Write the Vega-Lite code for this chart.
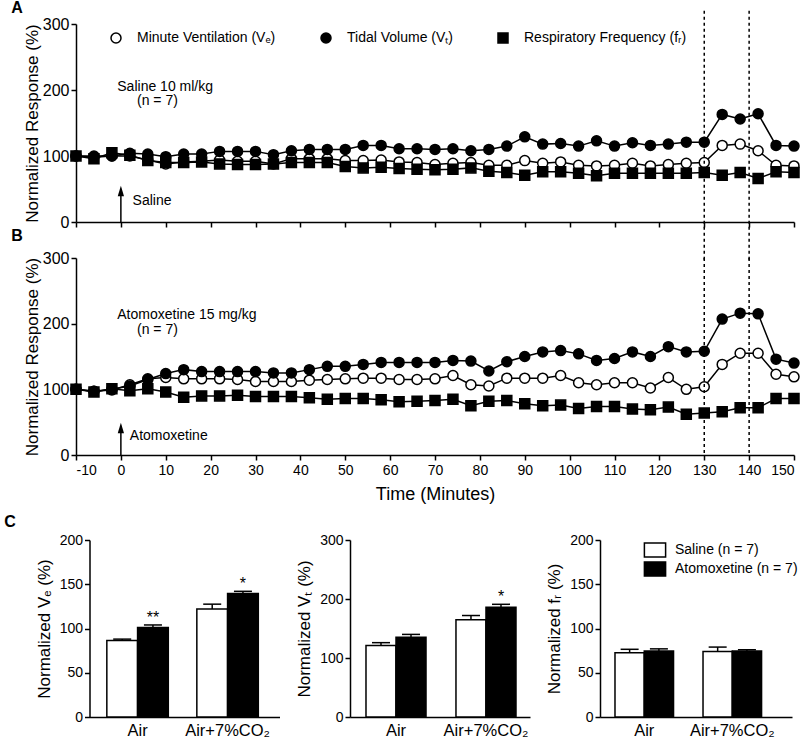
{
  "$schema": "https://vega.github.io/schema/vega-lite/v6.json",
  "background": "white",
  "padding": {"left": 4, "top": 0, "right": 4, "bottom": 4},
  "config": {
    "font": "Liberation Sans",
    "view": {"stroke": null},
    "axis": {"domainColor": "black", "tickColor": "black", "labelColor": "black", "titleColor": "black", "domainWidth": 1.5, "tickWidth": 1.5, "tickSize": 5, "grid": false, "labelFont": "Liberation Sans", "titleFont": "Liberation Sans", "titleFontWeight": "normal", "labelFontSize": 15, "titleFontSize": 17},
    "title": {"fontSize": 16, "fontWeight": "bold", "anchor": "start", "frame": "bounds", "offset": 6, "font": "Liberation Sans", "color": "black"},
    "legend": {"labelFont": "Liberation Sans", "labelColor": "black"}
  },
  "datasets": {
    "one": [{"k": 0}],
    "vlines": [{"t": 130}, {"t": 140}],
    "saline": [
      {"t":-10,"VE":100,"VT":100,"fR":100},{"t":-6,"VE":98,"VT":100,"fR":96},{"t":-2,"VE":100,"VT":100,"fR":105},{"t":2,"VE":100,"VT":104,"fR":101},
      {"t":6,"VE":94,"VT":103,"fR":93},{"t":10,"VE":88,"VT":99,"fR":90},{"t":14,"VE":91,"VT":103,"fR":90},{"t":18,"VE":92,"VT":103,"fR":91},
      {"t":22,"VE":94,"VT":107,"fR":88},{"t":26,"VE":92,"VT":107,"fR":87},{"t":30,"VE":92,"VT":107,"fR":87},{"t":34,"VE":88,"VT":102,"fR":88},
      {"t":38,"VE":96,"VT":108,"fR":90},{"t":42,"VE":96,"VT":110,"fR":90},{"t":46,"VE":96,"VT":110,"fR":90},{"t":50,"VE":93,"VT":110,"fR":84},
      {"t":54,"VE":93,"VT":116,"fR":82},{"t":58,"VE":94,"VT":116,"fR":83},{"t":62,"VE":91,"VT":111,"fR":81},{"t":66,"VE":90,"VT":111,"fR":80},
      {"t":70,"VE":87,"VT":110,"fR":79},{"t":74,"VE":89,"VT":111,"fR":80},{"t":78,"VE":90,"VT":108,"fR":82},{"t":82,"VE":86,"VT":110,"fR":77},
      {"t":86,"VE":86,"VT":115,"fR":75},{"t":90,"VE":93,"VT":129,"fR":71},{"t":94,"VE":89,"VT":118,"fR":76},{"t":98,"VE":91,"VT":119,"fR":76},
      {"t":102,"VE":86,"VT":115,"fR":74},{"t":106,"VE":85,"VT":123,"fR":70},{"t":110,"VE":86,"VT":115,"fR":74},{"t":114,"VE":89,"VT":120,"fR":74},
      {"t":118,"VE":85,"VT":116,"fR":74},{"t":122,"VE":87,"VT":118,"fR":74},{"t":126,"VE":89,"VT":121,"fR":74},{"t":130,"VE":90,"VT":121,"fR":75},
      {"t":134,"VE":116,"VT":163,"fR":71},{"t":138,"VE":118,"VT":156,"fR":75},{"t":142,"VE":108,"VT":164,"fR":66},{"t":146,"VE":86,"VT":116,"fR":76},
      {"t":150,"VE":85,"VT":115,"fR":75}
    ],
    "atomox": [
      {"t":-10,"VE":100,"VT":100,"fR":100},{"t":-6,"VE":97,"VT":97,"fR":96},{"t":-2,"VE":99,"VT":100,"fR":101},{"t":2,"VE":107,"VT":105,"fR":98},
      {"t":6,"VE":116,"VT":115,"fR":101},{"t":10,"VE":118,"VT":124,"fR":96},{"t":14,"VE":116,"VT":130,"fR":88},{"t":18,"VE":116,"VT":127,"fR":90},
      {"t":22,"VE":116,"VT":127,"fR":90},{"t":26,"VE":115,"VT":127,"fR":91},{"t":30,"VE":112,"VT":127,"fR":89},{"t":34,"VE":112,"VT":125,"fR":89},
      {"t":38,"VE":112,"VT":125,"fR":89},{"t":42,"VE":114,"VT":130,"fR":87},{"t":46,"VE":115,"VT":135,"fR":85},{"t":50,"VE":116,"VT":135,"fR":86},
      {"t":54,"VE":117,"VT":138,"fR":86},{"t":58,"VE":117,"VT":141,"fR":84},{"t":62,"VE":115,"VT":141,"fR":81},{"t":66,"VE":115,"VT":141,"fR":82},
      {"t":70,"VE":116,"VT":141,"fR":83},{"t":74,"VE":121,"VT":144,"fR":85},{"t":78,"VE":107,"VT":143,"fR":75},{"t":82,"VE":105,"VT":128,"fR":82},
      {"t":86,"VE":117,"VT":142,"fR":83},{"t":90,"VE":117,"VT":150,"fR":78},{"t":94,"VE":117,"VT":157,"fR":75},{"t":98,"VE":121,"VT":159,"fR":76},
      {"t":102,"VE":110,"VT":154,"fR":71},{"t":106,"VE":107,"VT":144,"fR":74},{"t":110,"VE":110,"VT":147,"fR":74},{"t":114,"VE":110,"VT":157,"fR":70},
      {"t":118,"VE":102,"VT":150,"fR":69},{"t":122,"VE":118,"VT":165,"fR":73},{"t":126,"VE":100,"VT":157,"fR":62},{"t":130,"VE":104,"VT":158,"fR":64},
      {"t":134,"VE":138,"VT":207,"fR":66},{"t":138,"VE":155,"VT":216,"fR":72},{"t":142,"VE":155,"VT":215,"fR":72},{"t":146,"VE":123,"VT":146,"fR":86},
      {"t":150,"VE":119,"VT":140,"fR":86}
    ],
    "bars": [
      {"m":"VE","cond":"Air","g":"Saline (n = 7)","mean":86.3,"upper":88,"sig":""},
      {"m":"VE","cond":"Air","g":"Atomoxetine (n = 7)","mean":101,"upper":104,"sig":"**"},
      {"m":"VE","cond":"Air+7%CO₂","g":"Saline (n = 7)","mean":122,"upper":127.5,"sig":""},
      {"m":"VE","cond":"Air+7%CO₂","g":"Atomoxetine (n = 7)","mean":139.5,"upper":142,"sig":"*"},
      {"m":"VT","cond":"Air","g":"Saline (n = 7)","mean":121,"upper":126,"sig":""},
      {"m":"VT","cond":"Air","g":"Atomoxetine (n = 7)","mean":135,"upper":140,"sig":""},
      {"m":"VT","cond":"Air+7%CO₂","g":"Saline (n = 7)","mean":165,"upper":172,"sig":""},
      {"m":"VT","cond":"Air+7%CO₂","g":"Atomoxetine (n = 7)","mean":186,"upper":191,"sig":"*"},
      {"m":"fR","cond":"Air","g":"Saline (n = 7)","mean":72.5,"upper":76.5,"sig":""},
      {"m":"fR","cond":"Air","g":"Atomoxetine (n = 7)","mean":74.5,"upper":77,"sig":""},
      {"m":"fR","cond":"Air+7%CO₂","g":"Saline (n = 7)","mean":74,"upper":79,"sig":""},
      {"m":"fR","cond":"Air+7%CO₂","g":"Atomoxetine (n = 7)","mean":74.5,"upper":76,"sig":""}
    ]
  },
  "bounds": "flush",
  "spacing": 36,
  "resolve": {"scale": {"fill": "independent", "shape": "independent", "x": "independent", "y": "independent"}, "legend": {"fill": "independent", "shape": "independent"}},
  "vconcat": [
    {
      "width": 718, "height": 198,
      "title": {"text": "A", "dx": -12, "offset": -6},
      "layer": [
        {"data": {"name": "saline"}, "transform": [{"fold": ["VE", "VT", "fR"], "as": ["s", "v"]}],
         "mark": {"type": "line", "color": "black", "strokeWidth": 1.5},
         "encoding": {
           "x": {"field": "t", "type": "quantitative", "scale": {"domain": [-10, 150], "nice": false, "zero": false},
                 "axis": {"values": [-10,-5,0,5,10,15,20,25,30,35,40,45,50,55,60,65,70,75,80,85,90,95,100,105,110,115,120,125,130,135,140,145,150], "labels": false, "title": null}},
           "y": {"field": "v", "type": "quantitative", "scale": {"domain": [0, 300]},
                 "axis": {"values": [0,50,100,150,200,250,300], "title": "Normalized Response (%)", "labelFontSize": 16, "labelPadding": 2, "titlePadding": 1}},
           "detail": {"field": "s"}}},
        {"data": {"name": "saline"}, "transform": [{"fold": ["VE", "VT", "fR"], "as": ["s", "v"]}],
         "mark": {"type": "point", "filled": true, "stroke": "black", "strokeWidth": 1.5, "size": 100, "opacity": 1},
         "encoding": {
           "x": {"field": "t", "type": "quantitative"},
           "y": {"field": "v", "type": "quantitative"},
           "fill": {"field": "s", "type": "nominal", "scale": {"domain": ["VE", "VT", "fR"], "range": ["white", "black", "black"]},
                    "legend": {"orient": "none", "legendX": 33, "legendY": 7, "direction": "horizontal", "title": null, "symbolSize": 100, "labelFontSize": 14, "labelOffset": 14, "labelLimit": 400, "columnPadding": 42, "padding": 0,
                               "labelExpr": "datum.value === 'VE' ? 'Minute Ventilation (Vₑ)' : datum.value === 'VT' ? 'Tidal Volume (Vₜ)' : 'Respiratory Frequency (fᵣ)'",
                               "encode": {"symbols": {"update": {"stroke": {"value": "black"}, "strokeWidth": {"value": 1.5}}}}}},
           "shape": {"field": "s", "type": "nominal", "scale": {"domain": ["VE", "VT", "fR"], "range": ["circle", "circle", "square"]},
                    "legend": {"orient": "none", "legendX": 33, "legendY": 7, "direction": "horizontal", "title": null, "symbolSize": 100, "labelFontSize": 14, "labelOffset": 14, "labelLimit": 400, "columnPadding": 42, "padding": 0,
                               "labelExpr": "datum.value === 'VE' ? 'Minute Ventilation (Vₑ)' : datum.value === 'VT' ? 'Tidal Volume (Vₜ)' : 'Respiratory Frequency (fᵣ)'",
                               "encode": {"symbols": {"update": {"stroke": {"value": "black"}, "strokeWidth": {"value": 1.5}}}}}}
         }},
        {"data": {"name": "vlines"},
         "mark": {"type": "rule", "strokeDash": [3, 3], "strokeWidth": 1.5, "color": "black", "clip": false},
         "encoding": {"x": {"field": "t", "type": "quantitative"}, "y": {"datum": 320}, "y2": {"datum": -58}}},
        {"data": {"name": "one"}, "mark": {"type": "text", "align": "left", "baseline": "middle", "fontSize": 14},
         "encoding": {"x": {"datum": -0.8}, "y": {"datum": 205}, "text": {"value": "Saline 10 ml/kg"}}},
        {"data": {"name": "one"}, "mark": {"type": "text", "align": "left", "baseline": "middle", "fontSize": 14},
         "encoding": {"x": {"datum": 3.6}, "y": {"datum": 183}, "text": {"value": "(n = 7)"}}},
        {"data": {"name": "one"}, "mark": {"type": "text", "align": "left", "baseline": "middle", "fontSize": 14},
         "encoding": {"x": {"datum": 2.6}, "y": {"datum": 32}, "text": {"value": "Saline"}}},
        {"data": {"name": "one"}, "mark": {"type": "rule", "color": "black", "strokeWidth": 1.5},
         "encoding": {"x": {"datum": 0}, "y": {"datum": 0}, "y2": {"datum": 46}}},
        {"data": {"name": "one"}, "mark": {"type": "point", "shape": "M0,-1L0.6,1L-0.6,1Z", "filled": true, "color": "black", "size": 110, "opacity": 1},
         "encoding": {"x": {"datum": 0}, "y": {"datum": 47}}}
      ]
    },
    {
      "width": 718, "height": 197,
      "title": {"text": "B", "dx": -12, "offset": 6},
      "layer": [
        {"data": {"name": "atomox"}, "transform": [{"fold": ["VE", "VT", "fR"], "as": ["s", "v"]}],
         "mark": {"type": "line", "color": "black", "strokeWidth": 1.5},
         "encoding": {
           "x": {"field": "t", "type": "quantitative", "scale": {"domain": [-10, 150], "nice": false, "zero": false},
                 "axis": {"values": [-10,-5,0,5,10,15,20,25,30,35,40,45,50,55,60,65,70,75,80,85,90,95,100,105,110,115,120,125,130,135,140,145,150],
                          "labelExpr": "datum.value % 10 === 0 ? (datum.value < 0 ? '-' : '') + abs(datum.value) : ''", "labelFontSize": 14, "labelPadding": 3,
                          "title": "Time (Minutes)", "titleFontSize": 18, "titlePadding": 8}},
           "y": {"field": "v", "type": "quantitative", "scale": {"domain": [0, 300]},
                 "axis": {"values": [0,50,100,150,200,250,300], "title": "Normalized Response (%)", "labelFontSize": 16, "labelPadding": 2, "titlePadding": 1}},
           "detail": {"field": "s"}}},
        {"data": {"name": "atomox"}, "transform": [{"fold": ["VE", "VT", "fR"], "as": ["s", "v"]}],
         "mark": {"type": "point", "filled": true, "stroke": "black", "strokeWidth": 1.5, "size": 100, "opacity": 1},
         "encoding": {
           "x": {"field": "t", "type": "quantitative"},
           "y": {"field": "v", "type": "quantitative"},
           "fill": {"field": "s", "type": "nominal", "scale": {"domain": ["VE", "VT", "fR"], "range": ["white", "black", "black"]}, "legend": null},
           "shape": {"field": "s", "type": "nominal", "scale": {"domain": ["VE", "VT", "fR"], "range": ["circle", "circle", "square"]}, "legend": null}
         }},
        {"data": {"name": "vlines"},
         "mark": {"type": "rule", "strokeDash": [3, 3], "strokeWidth": 1.5, "color": "black", "clip": false},
         "encoding": {"x": {"field": "t", "type": "quantitative"}, "y": {"datum": 300}, "y2": {"datum": 0}}},
        {"data": {"name": "one"}, "mark": {"type": "text", "align": "left", "baseline": "middle", "fontSize": 14},
         "encoding": {"x": {"datum": -0.8}, "y": {"datum": 213}, "text": {"value": "Atomoxetine 15 mg/kg"}}},
        {"data": {"name": "one"}, "mark": {"type": "text", "align": "left", "baseline": "middle", "fontSize": 14},
         "encoding": {"x": {"datum": 3.6}, "y": {"datum": 190}, "text": {"value": "(n = 7)"}}},
        {"data": {"name": "one"}, "mark": {"type": "text", "align": "left", "baseline": "middle", "fontSize": 14},
         "encoding": {"x": {"datum": 2}, "y": {"datum": 29}, "text": {"value": "Atomoxetine"}}},
        {"data": {"name": "one"}, "mark": {"type": "rule", "color": "black", "strokeWidth": 1.5},
         "encoding": {"x": {"datum": 0}, "y": {"datum": 0}, "y2": {"datum": 40}}},
        {"data": {"name": "one"}, "mark": {"type": "point", "shape": "M0,-1L0.6,1L-0.6,1Z", "filled": true, "color": "black", "size": 110, "opacity": 1},
         "encoding": {"x": {"datum": 0}, "y": {"datum": 41}}}
      ]
    },
    {
      "width": 10, "height": 13,
      "data": {"name": "one"},
      "mark": {"type": "text"},
      "encoding": {"text": {"value": ""}}
    },
    {
      "title": {"text": "C", "dx": -31, "offset": 3},
      "bounds": "flush",
      "spacing": 70,
      "resolve": {"scale": {"fill": "independent", "x": "independent", "y": "independent", "xOffset": "independent"}, "legend": {"fill": "independent"}},
      "hconcat": [
        {
          "width": 203.5, "height": 177,
          "data": {"name": "bars"},
          "transform": [{"filter": "datum.m === 'VE'"}],
          "encoding": {
            "x": {"field": "cond", "type": "nominal", "sort": null, "scale": {"domain": ["Air", "Air+7%CO₂"], "range": [13.5, 203.5], "paddingInner": 0.317, "paddingOuter": 0.214, "align": 0.45},
                  "axis": {"title": null, "ticks": false, "labelAngle": 0, "labelFontSize": 16.5, "labelPadding": 5}},
            "xOffset": {"field": "g", "type": "nominal", "sort": null, "scale": {"domain": ["Saline (n = 7)", "Atomoxetine (n = 7)"], "paddingInner": 0, "paddingOuter": 0}},
            "y": {"field": "mean", "type": "quantitative", "scale": {"domain": [0, 200]},
                  "axis": {"values": [0, 50, 100, 150, 200], "title": "Normalized Vₑ (%)", "offset": -13.5, "labelFontSize": 14, "labelPadding": 2, "titlePadding": 6}}
          },
          "layer": [
            {"mark": {"type": "bar", "stroke": "black", "strokeWidth": 1.5},
             "encoding": {"fill": {"field": "g", "type": "nominal", "scale": {"domain": ["Saline (n = 7)", "Atomoxetine (n = 7)"], "range": ["white", "black"]}, "legend": null}}},
            {"mark": {"type": "rule", "strokeWidth": 1.5, "color": "black"}, "encoding": {"y2": {"field": "upper"}}},
            {"mark": {"type": "tick", "orient": "horizontal", "size": 18, "thickness": 1.5, "color": "black", "opacity": 1}, "encoding": {"y": {"field": "upper", "type": "quantitative"}}},
            {"mark": {"type": "text", "fontSize": 16, "baseline": "alphabetic", "dy": -2}, "encoding": {"y": {"field": "upper", "type": "quantitative"}, "text": {"field": "sig"}}}
          ]
        },
        {
          "width": 180, "height": 177,
          "data": {"name": "bars"},
          "transform": [{"filter": "datum.m === 'VT'"}],
          "encoding": {
            "x": {"field": "cond", "type": "nominal", "sort": null, "scale": {"domain": ["Air", "Air+7%CO₂"], "paddingInner": 0.333, "paddingOuter": 0.1667, "align": 0.533},
                  "axis": {"title": null, "ticks": false, "labelAngle": 0, "labelFontSize": 16.5, "labelPadding": 5}},
            "xOffset": {"field": "g", "type": "nominal", "sort": null, "scale": {"domain": ["Saline (n = 7)", "Atomoxetine (n = 7)"], "paddingInner": 0, "paddingOuter": 0}},
            "y": {"field": "mean", "type": "quantitative", "scale": {"domain": [0, 300]},
                  "axis": {"values": [0, 100, 200, 300], "title": "Normalized Vₜ (%)", "labelFontSize": 14, "labelPadding": 2, "titlePadding": 6}}
          },
          "layer": [
            {"mark": {"type": "bar", "stroke": "black", "strokeWidth": 1.5},
             "encoding": {"fill": {"field": "g", "type": "nominal", "scale": {"domain": ["Saline (n = 7)", "Atomoxetine (n = 7)"], "range": ["white", "black"]}, "legend": null}}},
            {"mark": {"type": "rule", "strokeWidth": 1.5, "color": "black"}, "encoding": {"y2": {"field": "upper"}}},
            {"mark": {"type": "tick", "orient": "horizontal", "size": 18, "thickness": 1.5, "color": "black", "opacity": 1}, "encoding": {"y": {"field": "upper", "type": "quantitative"}}},
            {"mark": {"type": "text", "fontSize": 16, "baseline": "alphabetic", "dy": -2}, "encoding": {"y": {"field": "upper", "type": "quantitative"}, "text": {"field": "sig"}}}
          ]
        },
        {
          "width": 192, "height": 177,
          "data": {"name": "bars"},
          "transform": [{"filter": "datum.m === 'fR'"}],
          "encoding": {
            "x": {"field": "cond", "type": "nominal", "sort": null, "scale": {"domain": ["Air", "Air+7%CO₂"], "paddingInner": 0.335, "paddingOuter": 0.258, "align": 0.33},
                  "axis": {"title": null, "ticks": false, "labelAngle": 0, "labelFontSize": 16.5, "labelPadding": 5}},
            "xOffset": {"field": "g", "type": "nominal", "sort": null, "scale": {"domain": ["Saline (n = 7)", "Atomoxetine (n = 7)"], "paddingInner": 0, "paddingOuter": 0}},
            "y": {"field": "mean", "type": "quantitative", "scale": {"domain": [0, 200]},
                  "axis": {"values": [0, 50, 100, 150, 200], "title": "Normalized fᵣ (%)", "labelFontSize": 14, "labelPadding": 2, "titlePadding": 6}}
          },
          "layer": [
            {"mark": {"type": "bar", "stroke": "black", "strokeWidth": 1.5},
             "encoding": {"fill": {"field": "g", "type": "nominal", "scale": {"domain": ["Saline (n = 7)", "Atomoxetine (n = 7)"], "range": ["white", "black"]},
                                   "legend": {"orient": "none", "legendX": 47, "legendY": 2, "title": null, "symbolType": "M-1.5,-1L1.5,-1L1.5,1L-1.5,1Z", "symbolSize": 200, "labelFontSize": 14, "labelOffset": 12, "rowPadding": -3, "padding": 0,
                                              "encode": {"symbols": {"update": {"stroke": {"value": "black"}, "strokeWidth": {"value": 1.5}}}}}}}},
            {"mark": {"type": "rule", "strokeWidth": 1.5, "color": "black"}, "encoding": {"y2": {"field": "upper"}}},
            {"mark": {"type": "tick", "orient": "horizontal", "size": 18, "thickness": 1.5, "color": "black", "opacity": 1}, "encoding": {"y": {"field": "upper", "type": "quantitative"}}}
          ]
        }
      ]
    }
  ]
}
